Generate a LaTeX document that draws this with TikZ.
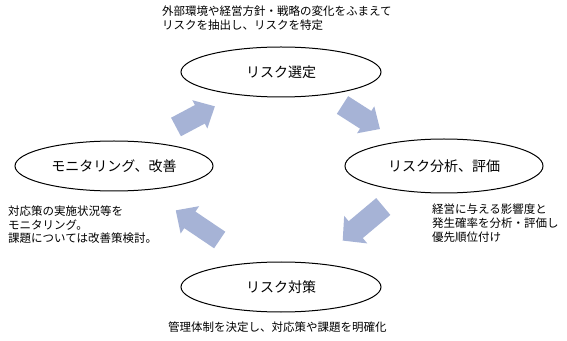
\documentclass[tikz,border=0pt]{standalone}
\usepackage{fontspec}
\newfontfamily\jp{Noto Sans CJK JP}
\definecolor{arrowblue}{RGB}{166,179,214}
\tikzset{
  stage/.style={line width=1pt},
  stagetext/.style={font=\jp\fontsize{14}{16}\selectfont},
  desc/.style={font=\jp\fontsize{11.5}{13.6}\selectfont, align=left, inner sep=0pt, anchor=north west},
}
% block arrow: tail centre, angle, length, head half width, shaft half width, head length
\newcommand\barrow[6]{%
  \fill[arrowblue, shift={(#1)}, rotate=#2]
    (0,-#5) -- (#3-#6,-#5) -- (#3-#6,-#4) -- (#3,0) -- (#3-#6,#4) -- (#3-#6,#5) -- (0,#5) -- cycle;}
\begin{document}
\begin{tikzpicture}[x=1pt,y=1pt]
\useasboundingbox (0,0) rectangle (567,340);
% stages
\draw[stage] (281,268) ellipse [x radius=100, y radius=25];
\node[stagetext] (sel) at (281,268) {リスク選定};
\draw[stage] (444,174) ellipse [x radius=99, y radius=27];
\node[stagetext] (ana) at (444,174) {リスク分析、評価};
\draw[stage] (281,53) ellipse [x radius=100, y radius=25];
\node[stagetext] (mea) at (281,53) {リスク対策};
\draw[stage] (114,174) ellipse [x radius=99, y radius=25];
\node[stagetext] (mon) at (114,174) {モニタリング、改善};
% arrows
\barrow{176,213}{28}{44}{16}{10.5}{17}
\barrow{342.5,235}{-32.6}{44.5}{16}{10.5}{17}
\barrow{383.3,133.5}{220}{53}{18}{11}{17}
\barrow{219.7,100}{146}{53}{16.5}{10}{17}
% descriptions
\node[desc] (d1) at (162,334) {外部環境や経営方針・戦略の変化をふまえて\\リスクを抽出し、リスクを特定};
\node[desc] (d2) at (432,136) {経営に与える影響度と\\発生確率を分析・評価し\\優先順位付け};
\node[desc] (d3) at (168,18.5) {管理体制を決定し、対応策や課題を明確化};
\node[desc] (d4) at (8,134.5) {対応策の実施状況等を\\モニタリング。\\課題については改善策検討。};
\end{tikzpicture}
\end{document}
